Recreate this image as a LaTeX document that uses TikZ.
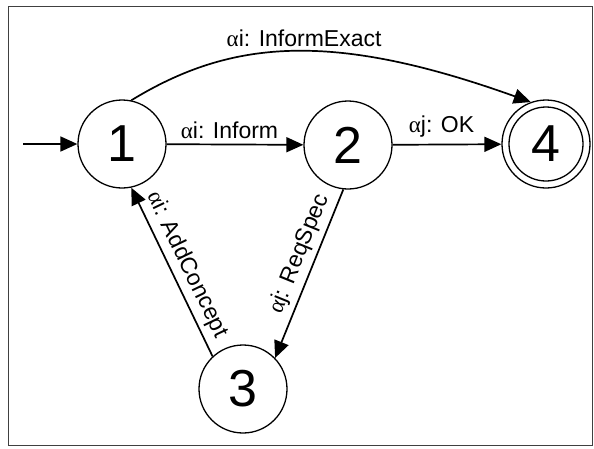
\documentclass[tikz,border=0pt]{standalone}
\usepackage{fontspec}
\setmainfont{Liberation Sans}
\newfontfamily\grk{Liberation Serif}
\usetikzlibrary{arrows.meta}
\newcommand{\al}{{\grk α}}
\begin{document}
\begin{tikzpicture}[x=1pt,y=-1pt,
  state/.style={circle,draw,line width=1.3pt,minimum size=88pt,inner sep=0pt,
    font=\fontsize{52}{52}\selectfont},
  edge/.style={line width=1.7pt,-{Triangle[length=17pt,width=15pt]}},
  lbl/.style={font=\fontsize{23}{26}\selectfont,inner sep=1pt}]
\useasboundingbox (0,0) rectangle (594,448);
\draw[line width=1pt,black!75] (8,6) rectangle (592,445);
\node[state] (n1) at (122,144) {1};
\node[state] (n2) at (348,145) {2};
\node[state] (n4) at (546,144) {4};
\draw[line width=1.3pt] (n4.center) circle (37pt);
\node[state] (n3) at (243,389) {3};
\coordinate (s) at (23,144);
\draw[edge] (s) -- (n1);
\draw[edge] (n1) -- node[lbl,pos=0.46,above=4pt] {\al i: Inform} (n2);
\draw[edge] (n2) -- node[lbl,pos=0.45,above=5pt] {\al j: OK} (n4);
\draw[edge] (n1.78) .. controls (230,40) and (330,30) .. node[lbl,pos=0.53,above=3pt] {\al i: InformExact} (n4.110);
\draw[edge] (n2.-96) -- node[lbl,sloped,pos=0.42,above=4pt] {\al j: ReqSpec} (n3.44);
\draw[edge] (n3.133) -- node[lbl,sloped,pos=0.5,above=4pt] {\al i: AddConcept} (n1.-78);
\end{tikzpicture}
\end{document}
